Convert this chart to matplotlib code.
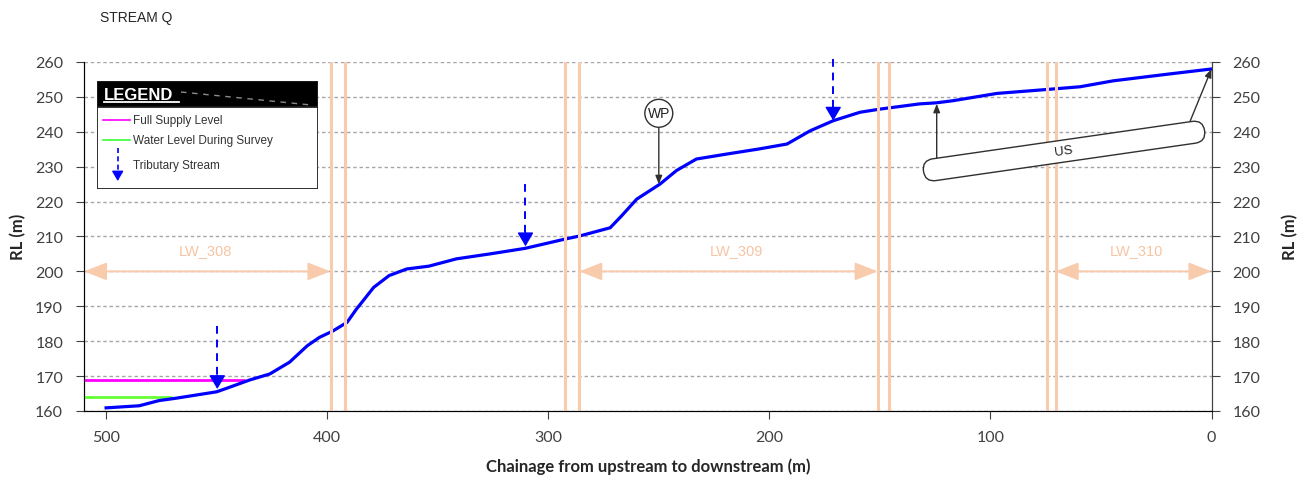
import matplotlib
matplotlib.use("Agg")
import matplotlib.pyplot as plt
from matplotlib.patches import Rectangle, FancyBboxPatch
from matplotlib.transforms import Affine2D, ScaledTranslation

# === Stream profile (chainage m, RL m) ===
chainage = [500, 485, 476, 469, 450, 445.5, 435, 426, 417, 409,
            403.5, 397.5, 391, 387, 379, 372, 364, 354, 341.5, 326.5,
            310.5, 293.5, 285.5, 272, 267, 260, 249.5, 242, 233, 219.5,
            204.5, 192, 181.5, 171, 159, 150, 132, 124.5, 117, 97,
            73, 59.5, 44.5, 20, 0]
rl = [160.9, 161.5, 163.0, 163.6, 165.5, 166.5, 168.9, 170.6, 174.0, 178.7,
      181.1, 182.9, 185.4, 189.0, 195.4, 198.8, 200.7, 201.5, 203.6, 205.0,
      206.6, 209.1, 210.2, 212.5, 215.8, 220.7, 225.0, 228.9, 232.2, 233.6,
      235.1, 236.5, 240.3, 243.2, 245.6, 246.5, 248.0, 248.3, 248.9, 251.0,
      252.2, 252.9, 254.6, 256.5, 258.0]

fsl_ch = [510, 437]
fsl_rl = 169
wl_ch = [510, 470]
wl_rl = 164

# longwall panel edges
panel_edges = [398.5, 392, 292.5, 286, 151, 146, 74.5, 70.5]
lw_names = ["LW_308", "LW_309", "LW_310"]
lw_start = [510, 286, 70.5]
lw_end = [398.5, 151, 0]
lw_label_ch = [455, 215, 34]
lw_arrow_rl = 200
lw_label_rl = 204

# tributary streams
trib_ch = [449.7, 310.3, 171.1]
trib_top = [184.3, 225, 261]
trib_tip = [166.3, 207.2, 243.2]

# WP feature
wp_ch, wp_rl, wp_tip = 250, 245.3, 225

# US callout
us_ch, us_rl = 66.7, 234.5
us_arrow_from = [(124.3, 232.4), (9.7, 243.0)]
us_arrow_to = [(124.3, 248.0), (0, 258.0)]

PEACH = "#F8CBAD"
TXT = "#404040"
W, H = 1305, 481

fig = plt.figure(figsize=(13.05, 4.81), dpi=100)
ax = fig.add_axes([84 / W, 1 - 412 / H, (1211.5 - 84) / W, (412 - 63) / H])

ax.set_xlim(510, 0)
ax.set_ylim(160, 260)
ax.set_xticks(range(500, -1, -100))
ax.set_yticks(range(160, 261, 10))
ax.yaxis.grid(True, color="#A6A6A6", linestyle=(0, (2.5, 2)), linewidth=1)
ax.set_axisbelow(True)
ax.spines["top"].set_visible(False)
for s in ["left", "right", "bottom"]:
    ax.spines[s].set_color("#404040")
for lab in ax.get_xticklabels() + ax.get_yticklabels():
    lab.set_family("Lato")
ax.tick_params(axis="y", direction="out", length=6, pad=9, labelsize=11.5,
               colors="#404040", labelcolor=TXT)
ax.tick_params(axis="x", direction="out", length=6, pad=8, labelsize=11.5,
               colors="#404040", labelcolor=TXT)

ax2 = ax.twinx()
ax2.set_ylim(160, 260)
ax2.set_yticks(range(160, 261, 10))
ax2.spines["top"].set_visible(False)
ax2.spines["right"].set_color("#404040")
for lab in ax2.get_yticklabels():
    lab.set_family("Lato")
ax2.tick_params(axis="y", direction="out", length=6, pad=9, labelsize=11.5,
                colors="#404040", labelcolor=TXT)

# water levels
ax.plot(fsl_ch, [fsl_rl, fsl_rl], color="#FF00FF", lw=2, zorder=3, solid_capstyle="butt")
ax.plot(wl_ch, [wl_rl, wl_rl], color="#66FF33", lw=2, zorder=3, solid_capstyle="butt")

# profile
ax.plot(chainage, rl, color="#0000FF", lw=2.3, zorder=3, solid_joinstyle="round")

# panel edges
for ch in panel_edges:
    ax.axvline(ch, color=PEACH, lw=2.2, zorder=4)

# longwall arrows
for name, a, b, lx in zip(lw_names, lw_start, lw_end, lw_label_ch):
    ax.annotate("", xy=(b, lw_arrow_rl), xytext=(a, lw_arrow_rl),
                arrowprops=dict(arrowstyle="<|-|>,head_length=1.4,head_width=0.55",
                                mutation_scale=10, color=PEACH, lw=1.4,
                                shrinkA=0, shrinkB=0), zorder=5)
    ax.text(lx, lw_label_rl, name, color="#F7C4A2", fontsize=10.5,
            family="Liberation Sans", ha="center", va="bottom", zorder=5)

# tributary arrows
for ch, top, tip in zip(trib_ch, trib_top, trib_tip):
    ax.plot([ch, ch], [top, tip + 2], color="#0000FF", lw=1.4,
            linestyle=(0, (4, 3)), zorder=6, clip_on=False)
    ax.annotate("", xy=(ch, tip), xytext=(0, 10), textcoords="offset points",
                arrowprops=dict(arrowstyle="-|>,head_length=0.85,head_width=0.5",
                                mutation_scale=10, color="#0000FF", lw=1,
                                shrinkA=0, shrinkB=0), zorder=6)

# WP marker
ax.annotate("WP", xy=(wp_ch, wp_tip), xytext=(wp_ch, wp_rl),
            ha="center", va="center", fontsize=10, family="Liberation Sans",
            color="#202020",
            bbox=dict(boxstyle="circle,pad=0.2", fc="white", ec="#303030", lw=1),
            arrowprops=dict(arrowstyle="-|>,head_length=0.5,head_width=0.2",
                            color="#303030", lw=1, shrinkA=0, shrinkB=0),
            zorder=6)

# US callout
box_tr = (Affine2D().rotate_deg(8.2) + fig.dpi_scale_trans
          + ScaledTranslation(us_ch, us_rl, ax.transData))
us_box = FancyBboxPatch((-1.42, -0.11), 2.84, 0.22,
                        boxstyle="round,pad=0,rounding_size=0.11",
                        fc="white", ec="#303030", lw=1, transform=box_tr,
                        zorder=5, clip_on=False)
ax.add_patch(us_box)
ax.text(us_ch, us_rl, "US", rotation=8.2, rotation_mode="anchor",
        ha="center", va="center", fontsize=9.5, family="Liberation Sans",
        color="#202020", zorder=6)
for (x0, y0), (x1, y1) in zip(us_arrow_from, us_arrow_to):
    ax.annotate("", xy=(x1, y1), xytext=(x0, y0),
                arrowprops=dict(arrowstyle="-|>,head_length=0.5,head_width=0.2",
                                color="#303030", lw=1, shrinkA=0, shrinkB=0),
                zorder=6, annotation_clip=False)

# labels
fig.text(100 / W, 1 - 18 / H, "STREAM Q", ha="left", va="center", fontsize=10,
         family="Liberation Sans", color="#262626")
fig.text(18 / W, 1 - 237 / H, "RL (m)", rotation=90, ha="center", va="center",
         fontsize=12, fontweight="bold", family="Lato", color="#262626")
fig.text(1290 / W, 1 - 237 / H, "RL (m)", rotation=90, ha="center", va="center",
         fontsize=12, fontweight="bold", family="Lato", color="#262626")
fig.text(648 / W, 1 - 467 / H, "Chainage from upstream to downstream (m)",
         ha="center", va="center", fontsize=12, fontweight="bold", family="Lato",
         color="#262626")

# legend box (own axes in pixel units)
lg = fig.add_axes([97 / W, 1 - 190 / H, 221 / W, 108 / H], zorder=10)
lg.set_xlim(0, 221)
lg.set_ylim(108, 0)
lg.axis("off")
lg.add_patch(Rectangle((0, 0), 221, 108, fc="white", ec="#202020", lw=1.3))
lg.add_patch(Rectangle((0, 0), 221, 26, fc="black", ec="#202020", lw=1.3))
lg.text(7, 13, "LEGEND", color="white", fontsize=12, fontweight="bold",
        family="Liberation Sans", ha="left", va="center")
lg.plot([7, 82], [21, 21], color="white", lw=1.3)
lg.plot([84, 214], [11, 24], color="#8a8a8a", lw=1, linestyle=(0, (4, 4)))
lg.plot([6, 33], [39, 39], color="#FF00FF", lw=1.2)
lg.text(36, 39, "Full Supply Level", fontsize=8.5, family="Liberation Sans",
        color="#333333", ha="left", va="center")
lg.plot([6, 33], [59, 59], color="#33FF33", lw=1.2)
lg.text(36, 59, "Water Level During Survey", fontsize=8.5, family="Liberation Sans",
        color="#333333", ha="left", va="center")
lg.plot([20.7, 20.7], [67, 94], color="#0000FF", lw=1.2, linestyle=(0, (3, 2)))
lg.annotate("", xy=(20.7, 100), xytext=(20.7, 92),
            arrowprops=dict(arrowstyle="-|>,head_length=0.6,head_width=0.35",
                            mutation_scale=10, color="#0000FF", lw=1,
                            shrinkA=0, shrinkB=0))
lg.text(36, 84, "Tributary Stream", fontsize=8.5, family="Liberation Sans",
        color="#333333", ha="left", va="center")

fig.savefig("out.png", dpi=100)
